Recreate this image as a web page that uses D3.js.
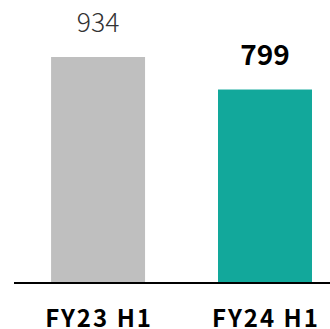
<!DOCTYPE html>
<html>
<head>
<meta charset="utf-8">
<script src="https://cdn.jsdelivr.net/npm/d3@7"></script>
<style>
  html, body { margin: 0; padding: 0; background: #fff; }
  svg { display: block; }
</style>
</head>
<body>
<svg id="chart" width="330" height="329"></svg>
<script>
// Half-year comparison
const categories = ["FY23 H1", "FY24 H1"];
const values = [934, 799];
const barColors = ["#bfbfbf", "#12a89b"];
const labelWeights = [300, 700];
const labelSizes = [26.5, 28];
const labelColors = ["#333333", "#000000"];

const svg = d3.select("#chart");
const baseY = 282;

const x = d3.scaleBand()
  .domain(categories)
  .range([14, 330])
  .paddingInner(0.437)
  .paddingOuter(0.165)
  .align(0.673);

const y = d3.scaleLinear()
  .domain([0, 1000])
  .range([baseY, 41.1]);

// Bars
svg.selectAll("rect.bar")
  .data(values)
  .join("rect")
  .attr("class", "bar")
  .attr("x", (d, i) => x(categories[i]))
  .attr("width", x.bandwidth())
  .attr("y", d => y(d))
  .attr("height", d => y(0) - y(d))
  .attr("fill", (d, i) => barColors[i]);

// Value labels above the bars
svg.selectAll("text.val")
  .data(values)
  .join("text")
  .attr("class", "val")
  .attr("x", (d, i) => x(categories[i]) + x.bandwidth() / 2)
  .attr("y", d => y(d) - 25)
  .attr("text-anchor", "middle")
  .attr("font-family", "'Noto Sans CJK JP', 'Noto Sans', sans-serif")
  .attr("font-size", (d, i) => labelSizes[i])
  .attr("font-weight", (d, i) => labelWeights[i])
  .attr("fill", (d, i) => labelColors[i])
  .text(d => d3.format("d")(d));

// Baseline with category labels
const axis = d3.axisBottom(x).tickSize(0).tickPadding(0);
const g = svg.append("g").attr("transform", `translate(0,${baseY + 1})`).call(axis);
g.select(".domain").attr("stroke", "#000").attr("stroke-width", 2).attr("d", "M14,0H330");
g.selectAll(".tick text")
  .attr("x", 1)
  .attr("y", 43.5)
  .attr("dy", 0)
  .attr("font-family", "'Noto Sans CJK JP', 'Noto Sans', sans-serif")
  .attr("font-size", 24)
  .attr("font-weight", 700)
  .attr("letter-spacing", 2)
  .attr("fill", "#000");
</script>
</body>
</html>
